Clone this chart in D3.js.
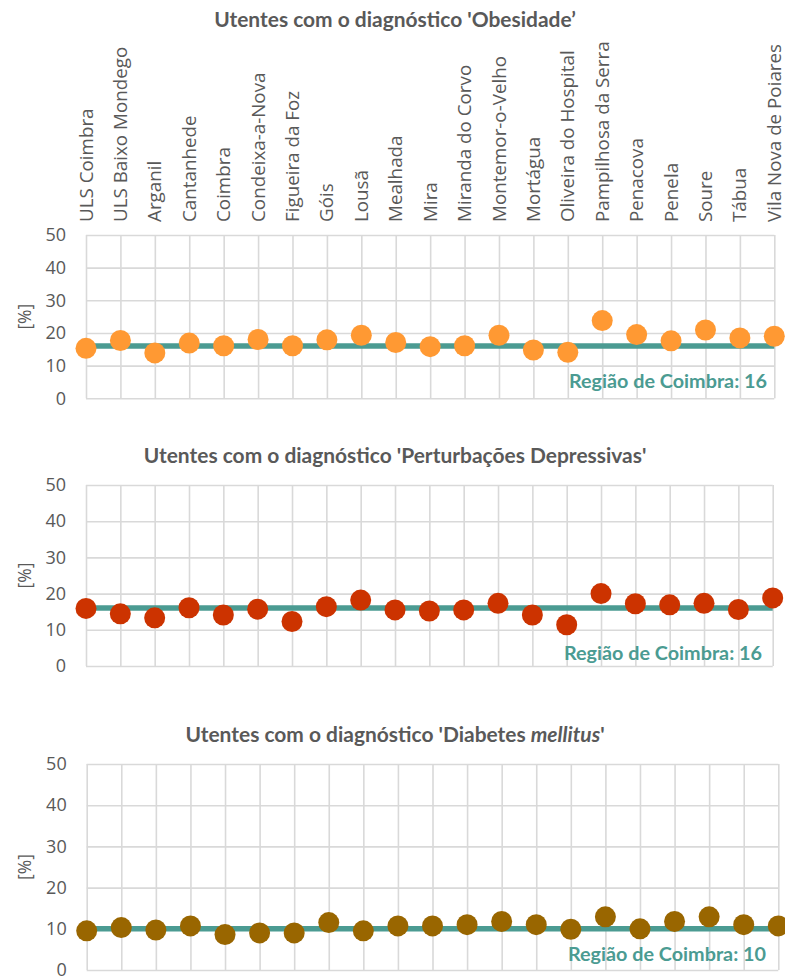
<!DOCTYPE html>
<html><head><meta charset="utf-8">
<script src="https://cdn.jsdelivr.net/npm/d3@7"></script>
<style>body{margin:0;background:#fff} svg{display:block}</style>
</head><body><svg id="c" width="785" height="976"></svg>
<script>
const categories = ["ULS Coimbra","ULS Baixo Mondego","Arganil","Cantanhede","Coimbra","Condeixa-a-Nova","Figueira da Foz","Góis","Lousã","Mealhada","Mira","Miranda do Corvo","Montemor-o-Velho","Mortágua","Oliveira do Hospital","Pampilhosa da Serra","Penacova","Penela","Soure","Tábua","Vila Nova de Poiares"];
const obesidade = [15.3,17.7,13.9,16.9,16.1,18.0,16.1,17.9,19.3,17.1,15.8,16.1,19.3,14.8,14.1,23.8,19.5,17.6,20.9,18.5,19.0];
const depressao = [15.9,14.4,13.3,16.1,14.1,15.7,12.3,16.4,18.2,15.5,15.2,15.5,17.3,14.1,11.4,20.0,17.2,16.9,17.3,15.6,18.8];
const diabetes = [9.5,10.3,9.7,10.7,8.6,9.0,9.0,11.5,9.5,10.7,10.7,11.0,11.8,11.0,9.9,12.9,10.0,11.8,12.9,11.0,10.7];
const regionValues = [16, 16, 10];
const regionLabels = ["Região de Coimbra: 16","Região de Coimbra: 16","Região de Coimbra: 10"];
const titleStarts = ["Utentes com o diagnóstico 'Obesidade’","Utentes com o diagnóstico 'Perturbações Depressivas'","Utentes com o diagnóstico 'Diabetes "];
const titleItalic = ["","","mellitus"];
const titleEnds = ["","","'"];
const yTicks = [0,10,20,30,40,50];
const seriesList = [obesidade, depressao, diabetes];
const dotColors = ["#FF9933","#CC3300","#996600"];

const layout = [
  {x0:86, x1:774.3, y0:398.3, y50:235, ty:27, lx:767, ly:388},
  {x0:86, x1:772.7, y0:666, y50:485, ty:463, lx:762, ly:660},
  {x0:86.7, x1:778.3, y0:970, y50:764, ty:742, lx:766, ly:961}
];
const teal = "#4B9B92";
const grey = "#595959";
const svg = d3.select("#c");

// title font size from title 1 width
const probe = svg.append("text").attr("font-family","Lato").attr("font-weight","bold").attr("font-size",20).text(titleStarts[0]);
const titleFs = 20 * 362 / probe.node().getComputedTextLength();
probe.remove();

layout.forEach((L, i) => {
  const g = svg.append("g");
  const x = d3.scalePoint().domain(categories).range([L.x0, L.x1]);
  const y = d3.scaleLinear().domain([0,50]).range([L.y0, L.y50]);

  // horizontal grid + tick labels
  const ya = g.append("g").attr("transform",`translate(${L.x0},0)`)
    .call(d3.axisLeft(y).tickValues(yTicks).tickSize(-(L.x1-L.x0)).tickPadding(20));
  ya.select(".domain").remove();
  ya.selectAll(".tick line").attr("stroke","#D9D9D9").attr("stroke-width",1.6);
  ya.selectAll(".tick text").attr("font-family","Open Sans").attr("font-size",18).attr("fill",grey);

  // vertical grid
  const xa = g.append("g").attr("transform",`translate(0,${L.y0})`)
    .call(d3.axisBottom(x).tickSize(-(L.y0-L.y50)).tickFormat(""));
  xa.select(".domain").remove();
  xa.selectAll(".tick line").attr("stroke","#D9D9D9").attr("stroke-width",1.6);

  // y label
  g.append("text").attr("transform",`translate(25,${(L.y0+L.y50)/2}) rotate(-90)`)
    .attr("text-anchor","middle").attr("dy","0.35em")
    .attr("font-family","Open Sans").attr("font-size",17.5).attr("fill",grey).text("[%]");

  // title
  const t = g.append("text").attr("x",395).attr("y",L.ty).attr("text-anchor","middle")
    .attr("font-family","Lato").attr("font-weight","bold").attr("font-size",titleFs).attr("fill",grey);
  t.append("tspan").text(titleStarts[i]);
  if (titleItalic[i]) t.append("tspan").attr("font-style","italic").text(titleItalic[i]);
  if (titleEnds[i]) t.append("tspan").text(titleEnds[i]);

  // region average line
  const avg = regionValues[i];
  g.append("line").attr("x1",x(categories[0])).attr("x2",x(categories[categories.length-1]))
    .attr("y1",y(avg)).attr("y2",y(avg)).attr("stroke",teal).attr("stroke-width",5.5);

  // dots
  g.selectAll("circle.d").data(seriesList[i]).join("circle").attr("class","d")
    .attr("cx",(d,j)=>x(categories[j])).attr("cy",d=>y(d)).attr("r",10.5).attr("fill",dotColors[i]);

  // region label
  const rl = g.append("text").attr("x",L.lx).attr("y",L.ly).attr("text-anchor","end")
    .attr("font-family","Lato").attr("font-weight","bold").attr("font-size",19).attr("fill",teal).text(regionLabels[i]);
  rl.attr("textLength",198).attr("lengthAdjust","spacingAndGlyphs");

  // category labels (top panel only)
  if (i === 0) {
    g.selectAll("text.cat").data(categories).join("text").attr("class","cat")
      .attr("transform",d=>`translate(${x(d)},222) rotate(-90)`)
      .attr("dy","0.35em").attr("text-anchor","start")
      .attr("font-family","Open Sans").attr("font-size",18.8).attr("fill",grey)
      .attr("x",0).text(d=>d);
  }
});
</script></body></html>
